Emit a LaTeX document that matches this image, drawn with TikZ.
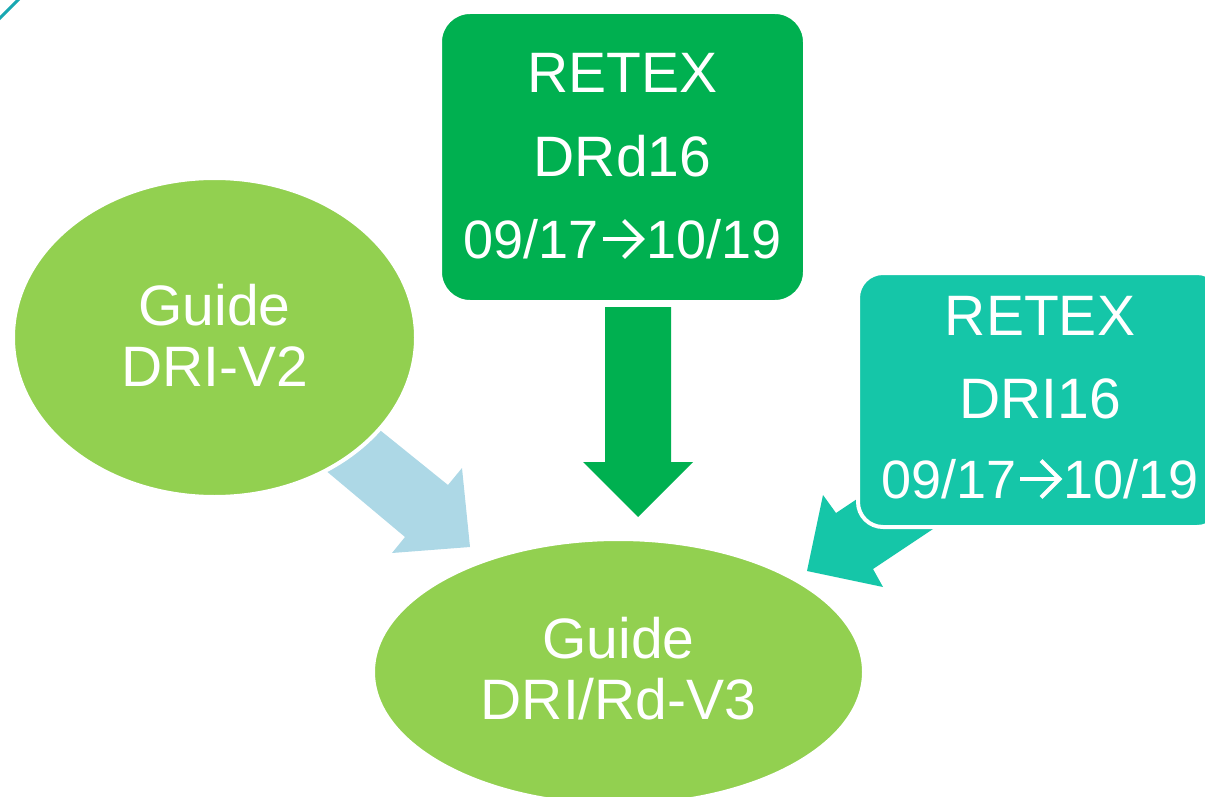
\documentclass[tikz,border=0pt]{standalone}
\usepackage{fontspec}
\setmainfont{Liberation Sans}
\usetikzlibrary{shapes.geometric}

\definecolor{leaf}{HTML}{92D050}
\definecolor{deepgreen}{HTML}{00B050}
\definecolor{teal2}{HTML}{15C6A8}
\definecolor{paleblue}{HTML}{ADD8E6}
\definecolor{edgeline}{RGB}{25,168,178}

% open-headed arrow set at cap height, used between the dates
\newcommand{\datearrow}{\hspace{1.5pt}\tikz[baseline=0pt]{%
  \draw[white, line width=4pt, line join=miter, line cap=butt]
    (0pt,19pt) -- (40pt,19pt);
  \draw[white, line width=4pt, line join=miter, line cap=butt]
    (21pt,0.5pt) -- (39.5pt,19pt) -- (21pt,37.5pt);}\hspace{1.5pt}}

\tikzset{
  guidebubble/.style={ellipse, fill=leaf, draw=white, line width=4pt, inner sep=0pt},
  retexbox/.style={rectangle, draw=white, line width=4pt, inner sep=0pt},
  bigtxt/.style={text=white, inner sep=0pt, anchor=base, font=\fontsize{57}{57}\selectfont},
  datetxt/.style={text=white, inner sep=0pt, anchor=base, font=\fontsize{54}{54}\selectfont}
}

\begin{document}
\begin{tikzpicture}[x=1pt,y=-1pt]
\useasboundingbox (0,0) rectangle (1205,797);
\clip (0,0) rectangle (1205,797);

% thin corner stroke
\draw[edgeline, line width=3pt] (-5,23) -- (23,-5);

% block arrows (drawn first, shapes overlap their tails)
\fill[paleblue] (360,414) -- (448,485) -- (462,468) -- (470,547)
  -- (392,553) -- (405,537) -- (306,454) -- cycle;
\fill[deepgreen] (605,307) -- (671,307) -- (671,462) -- (693,462)
  -- (638,517) -- (583,462) -- (605,462) -- cycle;
\fill[teal2] (926,453) -- (836,513) -- (823,495) -- (807,571)
  -- (883,587) -- (873,569) -- (963,509) -- cycle;

% source bubble
\node[guidebubble, minimum width=403pt, minimum height=319pt] (v2) at (214.5,337.5) {};
\node[bigtxt] (v2a) at (214.5,325) {Guide};
\node[bigtxt] (v2b) at (214.5,386) {DRI-V2};

% target bubble
\node[guidebubble, minimum width=491pt, minimum height=266pt] (v3) at (618.5,672) {};
\node[bigtxt] (v3a) at (618.5,658) {Guide};
\node[bigtxt] (v3b) at (618.5,719) {DRI/Rd-V3};

% RETEX DRd16
\node[retexbox, fill=deepgreen, rounded corners=30pt, minimum width=365pt, minimum height=290pt] (rd) at (622.5,157) {};
\node[bigtxt] (rda) at (622.5,93) {RETEX};
\node[bigtxt] (rdb) at (622.5,177) {DRd16};
\node[datetxt] (rdc) at (622.5,258) {09/17\datearrow10/19};

% RETEX DRI16
\node[retexbox, fill=teal2, rounded corners=25pt, minimum width=364pt, minimum height=254pt] (ri) at (1040,400) {};
\node[bigtxt] (ria) at (1040,335) {RETEX};
\node[bigtxt] (rib) at (1040,418) {DRI16};
\node[datetxt] (ric) at (1040,498) {09/17\datearrow10/19};
\end{tikzpicture}
\end{document}
